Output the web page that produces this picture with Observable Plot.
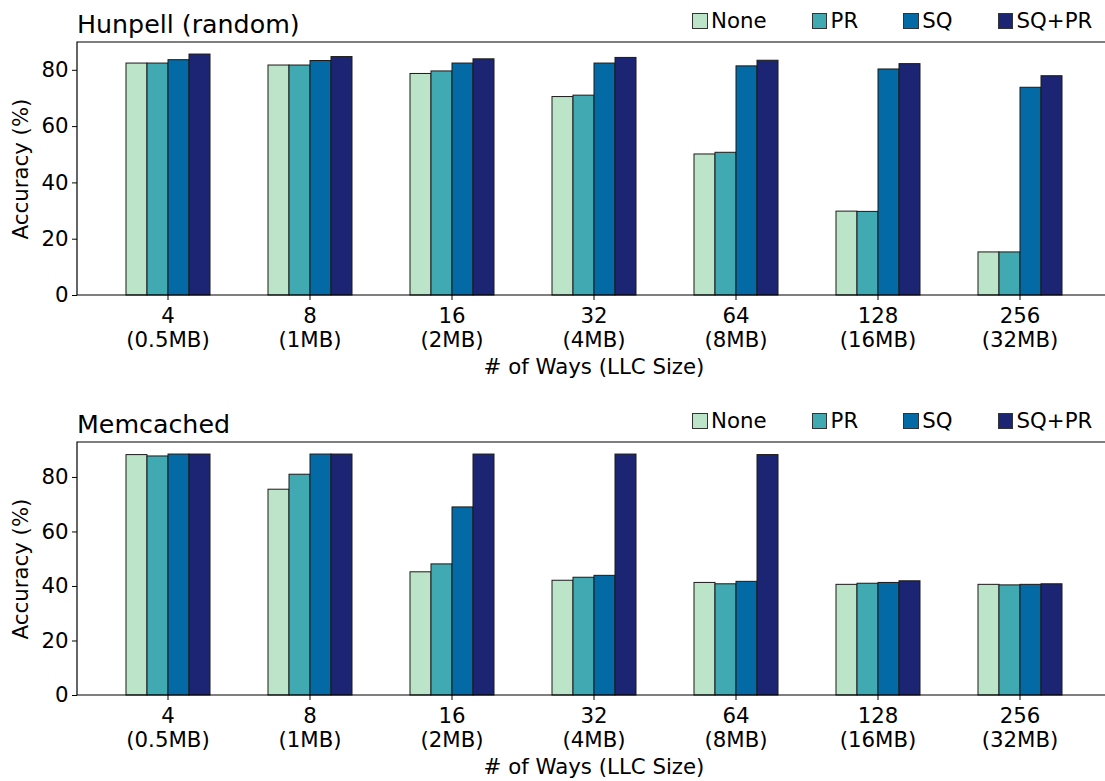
<!DOCTYPE html>
<html>
<head>
<meta charset="utf-8">
<script src="https://cdn.jsdelivr.net/npm/d3@7"></script>
<script src="https://cdn.jsdelivr.net/npm/@observablehq/plot@0.6"></script>
<style>
  body { margin: 0; background: #fff; }
  #chart { position: relative; width: 1105px; height: 781px; overflow: hidden; font-family: "DejaVu Sans", sans-serif; color: #000; }
  .panel { position: absolute; left: 0; width: 1112px; height: 390px; }
  .panel svg { position: absolute; left: 0; top: 0; }
  .title { position: absolute; left: 77px; top: 11.9px; font-size: 25.3px; line-height: 1; white-space: nowrap; }
  .legend { position: absolute; left: 692px; top: 10.3px; display: flex; gap: 45px; font-size: 21.3px; line-height: 1; }
  .legend .item { display: flex; align-items: center; }
  .legend .swatch { width: 13.5px; height: 13.5px; border: 1px solid #333; margin-right: 3.5px; }
</style>
</head>
<body>
<div id="chart"></div>
<script>
// LLC associativity (ways) and the matching cache size
const ways = ["4", "8", "16", "32", "64", "128", "256"];
const llcSizes = ["0.5MB", "1MB", "2MB", "4MB", "8MB", "16MB", "32MB"];
const methods = ["None", "PR", "SQ", "SQ+PR"];
const colors = ["#bce4c9", "#40a9b1", "#036aa5", "#1b2573"];
const yTicks = [0, 20, 40, 60, 80];

// Hunspell (random) accuracy, %
const hunspellNone = [82.4, 81.7, 78.7, 70.5, 50.1, 29.8, 15.3];
const hunspellPR   = [82.4, 81.7, 79.6, 71.0, 50.7, 29.7, 15.3];
const hunspellSQ   = [83.6, 83.3, 82.4, 82.4, 81.4, 80.3, 73.8];
const hunspellSQPR = [85.6, 84.7, 83.9, 84.4, 83.4, 82.2, 77.9];

// Memcached accuracy, %
const memcachedNone = [88.2, 75.5, 45.2, 42.1, 41.3, 40.6, 40.6];
const memcachedPR   = [87.7, 81.0, 48.1, 43.2, 40.8, 41.0, 40.4];
const memcachedSQ   = [88.4, 88.4, 69.0, 43.9, 41.7, 41.3, 40.6];
const memcachedSQPR = [88.4, 88.4, 88.4, 88.4, 88.2, 41.9, 40.8];

const panels = [
  {title: "Hunpell (random)", series: [hunspellNone, hunspellPR, hunspellSQ, hunspellSQPR]},
  {title: "Memcached", series: [memcachedNone, memcachedPR, memcachedSQ, memcachedSQPR]}
];

const W = 1112, H = 390;
const margin = {left: 77, right: 1, top: 42, bottom: 95};
const font = {fontFamily: "DejaVu Sans, sans-serif", fontSize: "21.3px", color: "black"};

const root = d3.select("#chart");

panels.forEach((p, pi) => {
  const rows = ways.flatMap((way, i) => methods.map((method, k) => ({way, method, acc: p.series[k][i]})));
  const yMax = d3.max(rows, d => d.acc) * 1.05;

  const wrap = root.append("div").attr("class", "panel").style("top", `${pi * 400}px`);

  // grouped bars, one facet per LLC configuration
  const main = Plot.plot({
    width: W, height: H,
    marginLeft: margin.left, marginRight: margin.right, marginTop: margin.top, marginBottom: margin.bottom,
    style: {...font, background: "white"},
    fx: {domain: ways, paddingInner: 0.4, paddingOuter: 0.324},
    x: {domain: methods, padding: 0, axis: null},
    y: {domain: [0, yMax], axis: null},
    color: {domain: methods, range: colors},
    marks: [
      Plot.barY(rows, {fx: "way", x: "method", y: "acc", fill: "method", stroke: "#1a1a1a", strokeWidth: 1}),
      Plot.axisFx({
        anchor: "bottom",
        tickSize: 5, tickPadding: 5, lineHeight: 1.15,
        tickFormat: w => `${w}\n(${llcSizes[ways.indexOf(w)]})`,
        label: "# of Ways (LLC Size)", labelAnchor: "center", labelOffset: 78
      })
    ]
  });
  wrap.node().append(main);

  // top, left and bottom spines of the axes box
  const fxS = main.scale("fx"), yS = main.scale("y");
  const [xl, xr] = fxS.range;
  const y0 = yS.apply(0), yTop = yS.apply(yMax);
  d3.select(main).append("path")
    .attr("d", `M${xr},${yTop}H${xl}V${y0}H${xr}`)
    .attr("fill", "none").attr("stroke", "black").attr("stroke-width", 1.2);

  // y axis, anchored at the left edge of the axes box
  const yAxis = Plot.plot({
    width: margin.left + 3, height: H,
    marginLeft: margin.left, marginRight: 3, marginTop: margin.top, marginBottom: margin.bottom,
    style: {...font, background: "transparent"},
    y: {domain: [0, yMax]},
    marks: [
      Plot.axisY({ticks: yTicks, tickSize: 5, tickPadding: 4, label: "Accuracy (%)", labelAnchor: "center", labelOffset: 65, labelArrow: "none"})
    ]
  });
  wrap.node().append(yAxis);

  wrap.append("div").attr("class", "title").text(p.title);

  const legend = wrap.append("div").attr("class", "legend");
  methods.forEach((m, k) => {
    const item = legend.append("div").attr("class", "item");
    item.append("div").attr("class", "swatch").style("background", colors[k]);
    item.append("span").text(m);
  });
});
</script>
</body>
</html>
